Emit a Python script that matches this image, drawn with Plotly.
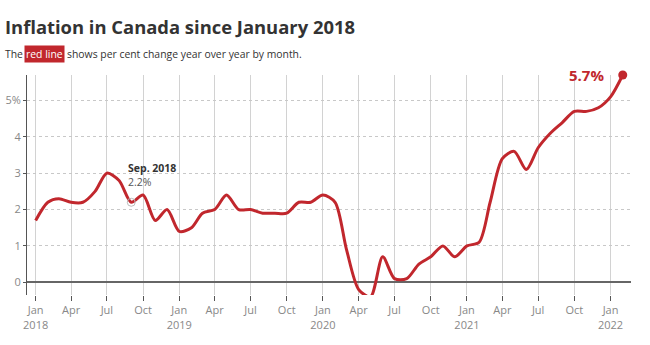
import plotly.graph_objects as go
import pandas as pd

# ---- data ----
dates = pd.date_range("2018-01-01", "2022-02-01", freq="MS")
cpi = [1.7, 2.2, 2.3, 2.2, 2.2, 2.5, 3.0, 2.8, 2.2, 2.4, 1.7, 2.0,
       1.4, 1.5, 1.9, 2.0, 2.4, 2.0, 2.0, 1.9, 1.9, 1.9, 2.2, 2.2,
       2.4, 2.2, 0.9, -0.2, -0.4, 0.7, 0.1, 0.1, 0.5, 0.7, 1.0, 0.7,
       1.0, 1.1, 2.2, 3.4, 3.6, 3.1, 3.7, 4.1, 4.4, 4.7, 4.7, 4.8,
       5.1, 5.7]
tick_dates = pd.date_range("2018-01-01", "2022-01-01", freq="3MS")
tick_labels = [("Jan<br>%d" % d.year) if d.month == 1 else
               {4: "Apr", 7: "Jul", 10: "Oct"}[d.month] for d in tick_dates]
y_ticks = [0, 1, 2, 3, 4, 5]
y_tick_labels = ["0", "1", "2", "3", "4", "5%"]
callout_idx = 8  # Sep 2018

RED = "#c1272d"
FONT = "Open Sans"

# plot-area pixel geometry for paper-coordinate text placement
L, R, T, B = 27, 631, 75, 295
W, H = 650, 345
def px(x):
    return (x - L) / (R - L)
def py(y):
    return (B - y) / (B - T)

fig = go.Figure()
fig.add_trace(go.Scatter(
    x=dates, y=cpi, mode="lines",
    line=dict(color=RED, width=3, shape="spline", smoothing=0.8),
    cliponaxis=False, hoverinfo="x+y"))
fig.add_trace(go.Scatter(
    x=[dates[-1]], y=[cpi[-1]], mode="markers",
    marker=dict(color=RED, size=9), cliponaxis=False))
fig.add_trace(go.Scatter(
    x=[dates[callout_idx]], y=[cpi[callout_idx]], mode="markers",
    marker=dict(color="rgba(0,0,0,0)", size=8,
                line=dict(color="#bbbbbb", width=1)), cliponaxis=False))

ann = []
ann.append(dict(xref="paper", yref="paper", x=px(3), y=py(26), xanchor="left",
                yanchor="middle", showarrow=False,
                text="<b>Inflation in Canada since January 2018</b>",
                font=dict(family=FONT, size=18.4, color="#333333")))
ann.append(dict(xref="paper", yref="paper", x=px(3), y=py(54), xanchor="left",
                yanchor="middle", showarrow=False, text="The",
                font=dict(family=FONT, size=10.4, color="#333333")))
ann.append(dict(xref="paper", yref="paper", x=px(23.5), y=py(54.5), xanchor="left",
                yanchor="middle", showarrow=False, text="red line",
                bgcolor=RED, borderpad=1,
                font=dict(family=FONT, size=10.4, color="white")))
ann.append(dict(xref="paper", yref="paper", x=px(65), y=py(54), xanchor="left",
                yanchor="middle", showarrow=False,
                text="shows per cent change year over year by month.",
                font=dict(family=FONT, size=10.4, color="#333333")))
ann.append(dict(xref="x", yref="y", x=dates[callout_idx], y=cpi[callout_idx],
                xanchor="left", yanchor="bottom", showarrow=False,
                xshift=-5, yshift=11, align="left",
                text="<b>Sep. 2018</b><br><span style='color:#555555'>%.1f%%</span>" % cpi[callout_idx],
                font=dict(family=FONT, size=10.5, color="#333333")))
ann.append(dict(xref="x", yref="y", x=dates[-1], y=cpi[-1],
                xanchor="right", yanchor="middle", showarrow=False,
                xshift=-17, yshift=0,
                text="<b>%.1f%%</b>" % cpi[-1],
                font=dict(family=FONT, size=15, color=RED)))

fig.update_layout(
    width=W, height=H,
    margin=dict(l=L, r=W - R, t=T, b=H - B, autoexpand=False),
    paper_bgcolor="white", plot_bgcolor="white",
    showlegend=False,
    font=dict(family=FONT, size=11, color="#888888"),
    annotations=ann,
    xaxis=dict(range=["2017-12-10", "2022-02-22"], tickvals=tick_dates,
               ticktext=tick_labels, showgrid=True, gridcolor="#d2d2d2",
               gridwidth=1, ticks="outside", ticklen=5, tickcolor="#555555",
               showline=False, zeroline=False, automargin=False,
               tickfont=dict(family=FONT, size=11, color="#888888")),
    yaxis=dict(range=[-0.35, 5.7], tickvals=y_ticks, ticktext=y_tick_labels,
               showgrid=True, gridcolor="#c8c8c8", griddash="dot",
               showline=True, linecolor="#555555", linewidth=1,
               ticks="outside", ticklen=3, tickcolor="#555555",
               zeroline=True, zerolinecolor="#666666", zerolinewidth=1.5,
               automargin=False,
               tickfont=dict(family=FONT, size=11, color="#888888")),
)

fig.write_html("out.html")
